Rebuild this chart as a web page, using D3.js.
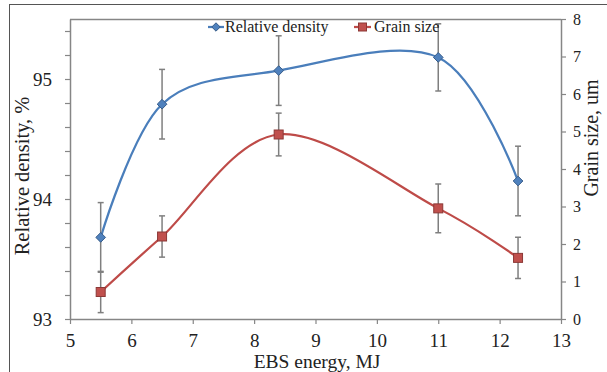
<!DOCTYPE html>
<html>
<head>
<meta charset="utf-8">
<script src="https://d3js.org/d3.v7.min.js"></script>
<style>
  body { margin: 0; background: #fff; }
  svg text { font-family: "Liberation Serif", "Times New Roman", "DejaVu Serif", serif !important; fill: #222; }
</style>
</head>
<body>
<div id="chart-container"></div>
<script>
// data
const energy = [5.5, 6.5, 8.4, 11, 12.3];
const density = [93.68, 94.79, 95.07, 95.18, 94.15];
const densityErr = [0.29, 0.29, 0.29, 0.28, 0.29];
const grain = [0.72, 2.2, 4.92, 2.95, 1.63];
const grainErr = [0.55, 0.55, 0.57, 0.65, 0.55];

const xTicks = [5, 6, 7, 8, 9, 10, 11, 12, 13];
const leftTicks = d3.range(0, 13).map(i => 93 + i * 0.2);
const rightTicks = [0, 1, 2, 3, 4, 5, 6, 7, 8];

const width = 607;
const height = 372;
// plot area edges
const plotL = 70, plotR = 561, plotT = 19, plotB = 319;

const blue = "#4a7ebb", blueDark = "#385d8a";
const red = "#be4b48", redDark = "#8c3836";
const axisGray = "#868686";

const svg = d3.select("#chart-container").append("svg")
  .attr("width", width)
  .attr("height", height);

// outer frame (only left and top show)
svg.append("rect")
  .attr("x", 9.5).attr("y", 4.5)
  .attr("width", 700).attr("height", 500)
  .attr("fill", "none")
  .attr("stroke", "#555")
  .attr("stroke-width", 1);

const x = d3.scaleLinear().domain([5, 13]).range([plotL, plotR]);
const yL = d3.scaleLinear().domain([93, 95.5]).range([plotB, plotT]);
const yR = d3.scaleLinear().domain([0, 8]).range([plotB, plotT]);

// top border of plot area
svg.append("line")
  .attr("x1", plotL).attr("x2", plotR)
  .attr("y1", plotT + 0.5).attr("y2", plotT + 0.5)
  .attr("stroke", axisGray).attr("stroke-width", 1.5);

// axes
const gx = svg.append("g")
  .attr("transform", `translate(0,${plotB})`)
  .call(d3.axisBottom(x).tickValues(xTicks).tickSize(5).tickSizeOuter(0).tickPadding(10));

const gl = svg.append("g")
  .attr("transform", `translate(${plotL},0)`)
  .call(d3.axisLeft(yL).tickValues(leftTicks).tickSize(5).tickSizeOuter(0).tickPadding(13)
    .tickFormat(d => Math.abs(d - Math.round(d)) < 1e-6 ? d3.format("d")(Math.round(d)) : ""));

const gr = svg.append("g")
  .attr("transform", `translate(${plotR},0)`)
  .call(d3.axisRight(yR).tickValues(rightTicks).tickSize(5).tickSizeOuter(0).tickPadding(7));

[gx, gl, gr].forEach(g => {
  g.attr("font-family", null);
  g.select(".domain").attr("stroke", axisGray).attr("stroke-width", 1.5);
  g.selectAll(".tick line").attr("stroke", axisGray).attr("stroke-width", 1.2);
  g.selectAll(".tick text").attr("fill", "#222");
});
gx.selectAll(".tick text").style("font-size", "19px");
gl.selectAll(".tick text").style("font-size", "19px");
gr.selectAll(".tick text").style("font-size", "16px");

// axis titles
svg.append("text")
  .attr("x", 317)
  .attr("y", 368)
  .attr("text-anchor", "middle")
  .style("font-size", "19.5px")
  .text("EBS energy, MJ");

svg.append("text")
  .attr("transform", "translate(29,176) rotate(-90)")
  .attr("text-anchor", "middle")
  .style("font-size", "20.5px")
  .text("Relative density, %");

svg.append("text")
  .attr("transform", "translate(598,138) rotate(-90)")
  .attr("text-anchor", "middle")
  .style("font-size", "20px")
  .text("Grain size, um");

// smoothed lines, excel style
const lineL = d3.line()
  .x((d, i) => x(energy[i]))
  .y(d => yL(d))
  .curve(d3.curveCardinal.tension(0));

const lineR = d3.line()
  .x((d, i) => x(energy[i]))
  .y(d => yR(d))
  .curve(d3.curveCardinal.tension(0));

svg.append("path")
  .attr("d", lineL(density))
  .attr("fill", "none")
  .attr("stroke", blue)
  .attr("stroke-width", 2.25);

svg.append("path")
  .attr("d", lineR(grain))
  .attr("fill", "none")
  .attr("stroke", red)
  .attr("stroke-width", 2.25);

// error bars
function errorBars(vals, errs, y) {
  const g = svg.append("g")
    .attr("stroke", "#7f7f7f")
    .attr("stroke-width", 1.5);
  vals.forEach((v, i) => {
    const cx = x(energy[i]);
    const y0 = y(v - errs[i]), y1 = y(v + errs[i]);
    g.append("line").attr("x1", cx).attr("x2", cx).attr("y1", y0).attr("y2", y1);
    g.append("line").attr("x1", cx - 3).attr("x2", cx + 3).attr("y1", y0).attr("y2", y0);
    g.append("line").attr("x1", cx - 3).attr("x2", cx + 3).attr("y1", y1).attr("y2", y1);
  });
}
errorBars(density, densityErr, yL);
errorBars(grain, grainErr, yR);

// markers
const diamond = d3.symbol().type(d3.symbolDiamond2).size(60);
svg.append("g")
  .selectAll("path")
  .data(density)
  .enter().append("path")
    .attr("d", diamond)
    .attr("transform", (d, i) => `translate(${x(energy[i])},${yL(d)})`)
    .attr("fill", "#4f81bd")
    .attr("stroke", blueDark)
    .attr("stroke-width", 1);

svg.append("g")
  .selectAll("rect")
  .data(grain)
  .enter().append("rect")
    .attr("x", (d, i) => x(energy[i]) - 4.5)
    .attr("y", d => yR(d) - 4.5)
    .attr("width", 9)
    .attr("height", 9)
    .attr("fill", "#c0504d")
    .attr("stroke", redDark)
    .attr("stroke-width", 1);

// legend
const legend = svg.append("g");
legend.append("line")
  .attr("x1", 208).attr("x2", 224).attr("y1", 27).attr("y2", 27)
  .attr("stroke", blue).attr("stroke-width", 2.25);
legend.append("path")
  .attr("d", d3.symbol().type(d3.symbolDiamond2).size(45))
  .attr("transform", "translate(216,27)")
  .attr("fill", "#4f81bd").attr("stroke", blueDark);
legend.append("text")
  .attr("x", 225).attr("y", 32)
  .style("font-size", "16px")
  .text("Relative density");

legend.append("line")
  .attr("x1", 354).attr("x2", 371).attr("y1", 27).attr("y2", 27)
  .attr("stroke", red).attr("stroke-width", 2.25);
legend.append("rect")
  .attr("x", 358.5).attr("y", 23).attr("width", 8).attr("height", 8)
  .attr("fill", "#c0504d").attr("stroke", redDark);
legend.append("text")
  .attr("x", 374).attr("y", 32)
  .style("font-size", "16px")
  .text("Grain size");
</script>
</body>
</html>
